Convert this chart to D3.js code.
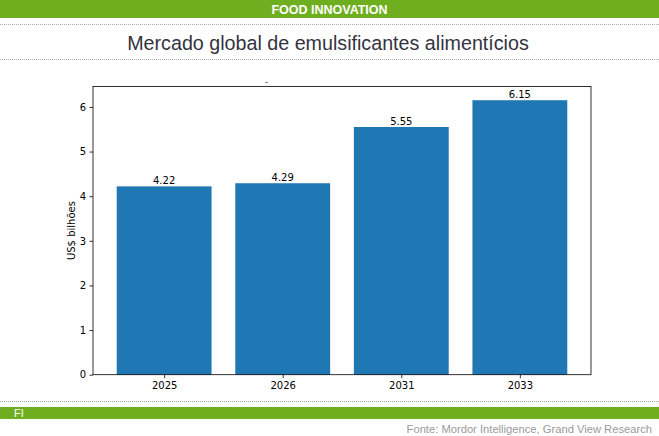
<!DOCTYPE html>
<html><head><meta charset="utf-8">
<script src="https://cdn.jsdelivr.net/npm/d3@7"></script>
<style>body{margin:0;background:#fff}svg{display:block}</style>
</head><body>
<script>
const categories = ["2025","2026","2031","2033"];
const values = [4.22, 4.29, 5.55, 6.15];
const yTicks = [0,1,2,3,4,5,6];
const valueLabels = ["4.22","4.29","5.55","6.15"];

const W=659,H=436;
const svg=d3.select("body").append("svg").attr("width",W).attr("height",H);
const green="#6fae1e";
svg.append("rect").attr("x",0).attr("y",0).attr("width",W).attr("height",18).attr("fill",green);
svg.append("text").attr("x",329.5).attr("y",13.5).attr("text-anchor","middle").attr("fill","#fff")
  .attr("font-family","Liberation Sans, Arial, sans-serif").attr("font-size",12.5).attr("font-weight","bold").text("FOOD INNOVATION");
function dotted(y){svg.append("line").attr("x1",0).attr("x2",W).attr("y1",y).attr("y2",y).attr("stroke","#aaa").attr("stroke-width",1).attr("stroke-dasharray","1,1");}
dotted(24.5);dotted(59.5);dotted(401.5);
svg.append("text").attr("x",328).attr("y",50).attr("text-anchor","middle").attr("fill","#33333f")
  .attr("font-family","Liberation Sans, Arial, sans-serif").attr("font-size",19.7).text("Mercado global de emulsificantes alimentícios");
svg.append("rect").attr("x",0).attr("y",407).attr("width",W).attr("height",12).attr("fill",green);
svg.append("text").attr("x",14).attr("y",417).attr("fill","#fff")
  .attr("font-family","Liberation Sans, Arial, sans-serif").attr("font-size",11).text("FI");
svg.append("text").attr("x",652).attr("y",433).attr("text-anchor","end").attr("fill","#9a9a9a")
  .attr("font-family","Liberation Sans, Arial, sans-serif").attr("font-size",11.2).text("Fonte: Mordor Intelligence, Grand View Research");
// small dash at top
svg.append("line").attr("x1",265).attr("x2",268).attr("y1",82.5).attr("y2",82.5).attr("stroke","#888");

const L=93,R=591,T=86.5,B=374.7;
const x=d3.scaleLinear().domain([-0.6,3.6]).range([L,R]);
const y=d3.scaleLinear().domain([0,6.4575]).range([B,T]);
const blue="#1f77b4";
svg.selectAll("rect.bar").data(values).enter().append("rect").attr("class","bar")
  .attr("x",(d,i)=>x(i-0.4)).attr("width",(d,i)=>x(i+0.4)-x(i-0.4))
  .attr("y",d=>y(d)).attr("height",d=>B-y(d)).attr("fill",blue);
const font="DejaVu Sans, sans-serif";
svg.selectAll("text.vl").data(values).enter().append("text").attr("class","vl")
  .attr("x",(d,i)=>x(i)).attr("y",d=>y(d)-2.5).attr("text-anchor","middle").attr("font-family",font).attr("font-size",10).attr("fill","#000")
  .text((d,i)=>valueLabels[i]);
svg.append("rect").attr("x",L).attr("y",T).attr("width",R-L).attr("height",B-T).attr("fill","none").attr("stroke","#000").attr("stroke-width",0.8);
const ya=d3.axisLeft(y).tickValues(yTicks).tickFormat(d3.format("d")).tickSize(3.5).tickPadding(3.5);
const yg=svg.append("g").attr("transform",`translate(${L},0)`).call(ya);
const xa=d3.axisBottom(x).tickValues(d3.range(categories.length)).tickFormat(i=>categories[i]).tickSize(3.5).tickPadding(3.5);
const xg=svg.append("g").attr("transform",`translate(0,${B})`).call(xa);
[yg,xg].forEach(g=>{g.select(".domain").remove();g.selectAll("text").attr("font-family",font).attr("font-size",10).attr("fill","#000");g.selectAll("line").attr("stroke","#000").attr("stroke-width",0.8);});
svg.append("text").attr("transform",`translate(75,${(T+B)/2}) rotate(-90)`).attr("text-anchor","middle")
  .attr("font-family",font).attr("font-size",10).text("US$ bilhões");
</script>
</body></html>
